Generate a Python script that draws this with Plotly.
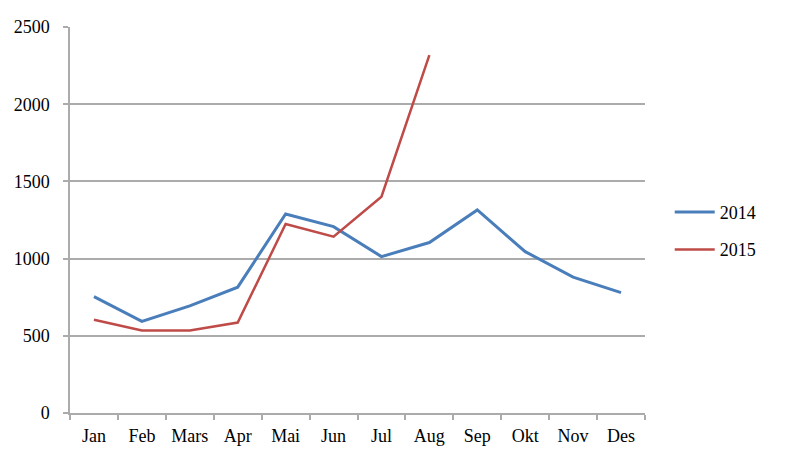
import plotly.graph_objects as go

months = ["Jan", "Feb", "Mars", "Apr", "Mai", "Jun", "Jul", "Aug", "Sep", "Okt", "Nov", "Des"]
values_2014 = [754, 593, 694, 815, 1289, 1207, 1013, 1104, 1315, 1045, 880, 780]
values_2015 = [604, 534, 534, 586, 1224, 1142, 1401, 2318]
y_ticks = [0, 500, 1000, 1500, 2000, 2500]

FONT = "Liberation Serif"
GRID = "#ABABAB"

fig = go.Figure()
fig.add_trace(go.Scatter(x=months, y=values_2014, mode="lines", name="2014",
                         legendgroup="a",
                         line=dict(color="#4A7EBB", width=3)))
fig.add_trace(go.Scatter(x=months[:len(values_2015)], y=values_2015, mode="lines", name="2015",
                         legendgroup="b",
                         line=dict(color="#BE4B48", width=2.5)))

fig.update_layout(
    width=788, height=465,
    margin=dict(l=62, r=151, t=19, b=60, autoexpand=False),
    paper_bgcolor="white", plot_bgcolor="white",
    font=dict(family=FONT, size=18, color="black"),
    showlegend=True,
    legend=dict(x=1.043, y=0.472, xanchor="left", yanchor="middle",
                traceorder="grouped", tracegroupgap=11, itemwidth=40,
                font=dict(family=FONT, size=18, color="black")),
)
fig.update_xaxes(type="category", categoryorder="array", categoryarray=months,
                 range=[-0.5, 11.5], automargin=False,
                 showline=True, linecolor=GRID, linewidth=1.5,
                 ticks="outside", tickson="boundaries", ticklen=5, tickcolor=GRID, tickwidth=1.5,
                 showgrid=False, ticklabelstandoff=6,
                 tickfont=dict(family=FONT, size=18))
fig.update_yaxes(range=[0, 2500], tickvals=y_ticks, ticktext=[str(v) for v in y_ticks],
                 automargin=False,
                 showline=True, linecolor=GRID, linewidth=1.5,
                 ticks="outside", ticklen=5, tickcolor=GRID, tickwidth=1.5,
                 showgrid=True, gridcolor=GRID, gridwidth=1.5, zeroline=False,
                 ticklabelstandoff=10,
                 tickfont=dict(family=FONT, size=18))

fig.write_html("out.html")
